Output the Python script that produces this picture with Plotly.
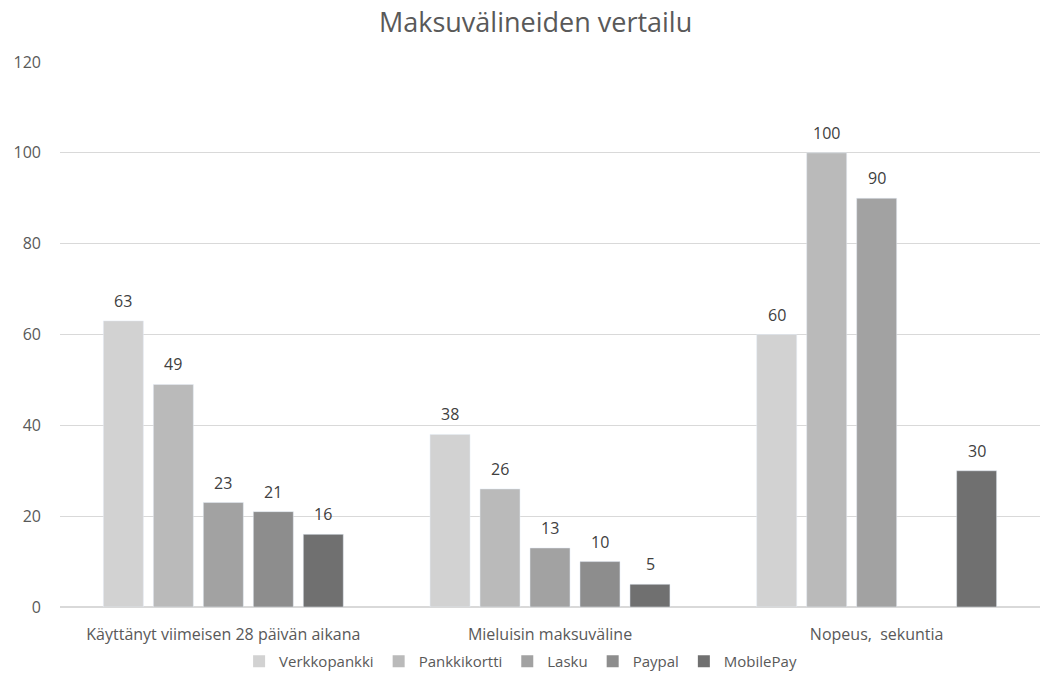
import plotly.graph_objects as go

categories = ["Käyttänyt viimeisen 28 päivän aikana", "Mieluisin maksuväline", "Nopeus,  sekuntia"]
series_names = ["Verkkopankki", "Pankkikortti", "Lasku", "Paypal", "MobilePay"]
verkkopankki = [63, 38, 60]
pankkikortti = [49, 26, 100]
lasku = [23, 13, 90]
paypal = [21, 10, None]
mobilepay = [16, 5, 30]
y_ticks = [0, 20, 40, 60, 80, 100, 120]

values = [verkkopankki, pankkikortti, lasku, paypal, mobilepay]
colors = ["#d2d2d2", "#bababa", "#a2a2a2", "#8d8d8d", "#707070"]

FONT = "Open Sans"
fig = go.Figure()
n = len(series_names)
slot_px = 50.0
for i, (name, vals, col) in enumerate(zip(series_names, values, colors)):
    fig.add_trace(go.Bar(
        name=name, x=categories, y=vals, marker_color=col, showlegend=False,
    ))
    # legend proxy with small square swatch
    fig.add_trace(go.Scatter(
        name=name, x=[None], y=[None], mode="markers",
        marker=dict(symbol="square", size=10, color=col), showlegend=True,
    ))
    for cat, v in zip(categories, vals):
        if v is None:
            continue
        fig.add_annotation(
            x=cat, y=v, text=str(v), showarrow=False,
            xanchor="center", yanchor="bottom",
            xshift=(i - (n - 1) / 2) * slot_px, yshift=7,
            font=dict(size=16, color="#404040", family=FONT),
        )

fig.update_layout(
    width=1040, height=682,
    margin=dict(l=60, r=0, t=62, b=75),
    paper_bgcolor="white", plot_bgcolor="white",
    barmode="group", bargap=0.235, bargroupgap=0.2,
    title=dict(text="Maksuvälineiden vertailu", x=0.515, xanchor="center",
               y=0.967, yanchor="middle",
               font=dict(size=27, color="#595959", family=FONT)),
    font=dict(family=FONT, color="#595959", size=16),
    legend=dict(orientation="h", x=0.47, xanchor="center", y=-0.1, yanchor="middle",
                font=dict(size=15, color="#595959"), itemwidth=30, traceorder="normal",
                itemsizing="constant"),
    showlegend=True,
)
fig.update_yaxes(range=[0, 120], tickvals=y_ticks, showgrid=True, gridcolor="#d9d9d9",
                 gridwidth=1, zeroline=True, zerolinecolor="#d9d9d9", showline=False,
                 ticks="", ticklabelstandoff=18, tickfont=dict(size=16, color="#595959"))
fig.update_xaxes(showline=False, ticks="", ticklabelstandoff=16,
                 tickfont=dict(size=16, color="#595959"))

fig.write_html("out.html")
